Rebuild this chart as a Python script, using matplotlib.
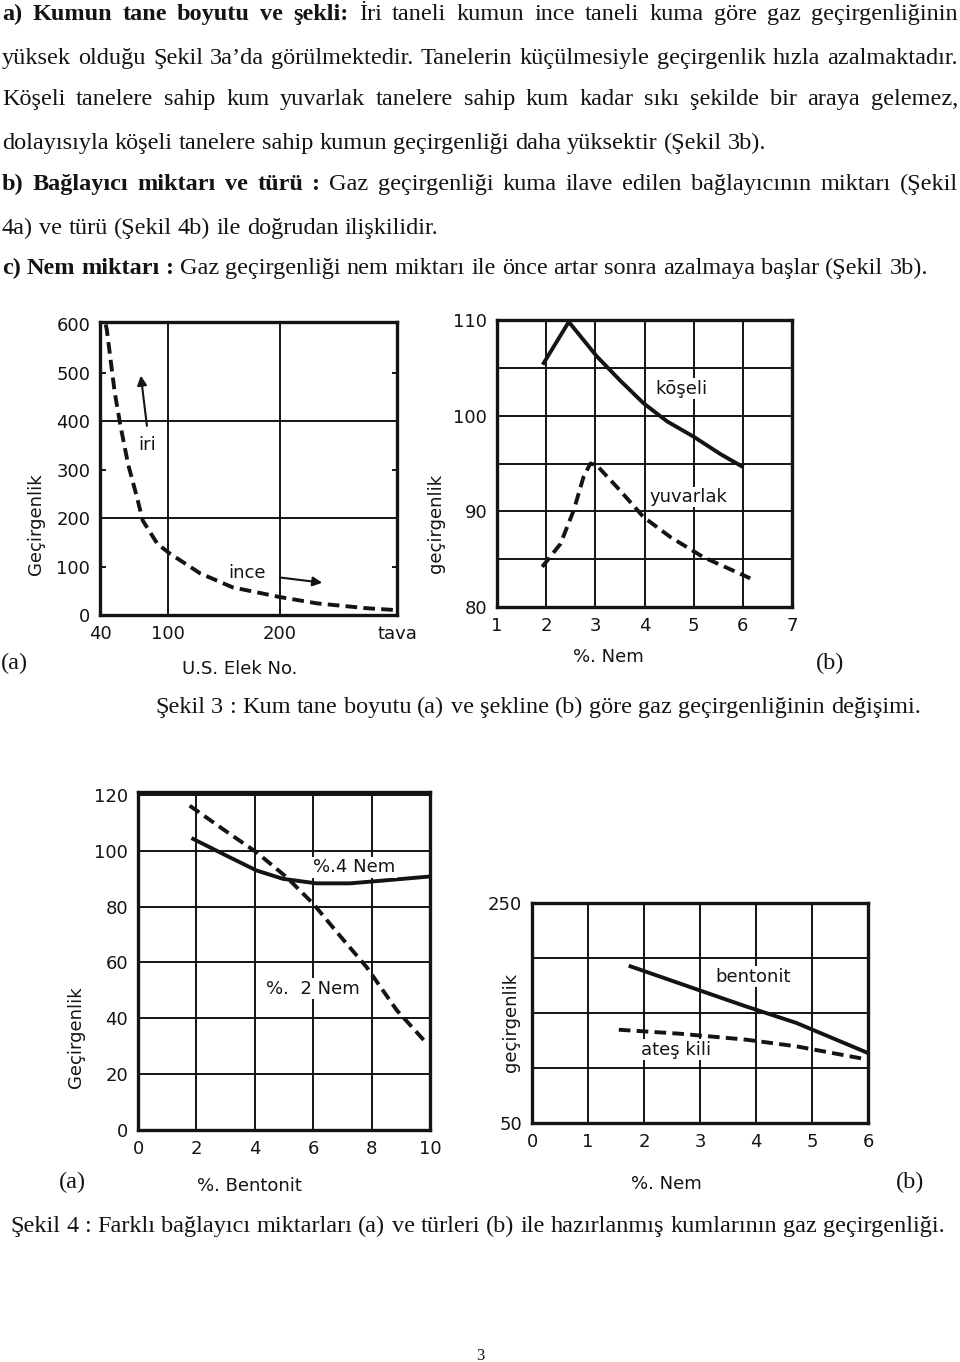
import numpy as np
import matplotlib.pyplot as plt

W, H = 960, 1362
INK = '#141414'
SERIF = 'Liberation Serif'
SANS = 'DejaVu Sans'
CFS = 13  # chart text size

# --- Şekil 3a: tane boyutu
sieve_ticks = [40, 100, 200, 304]
sieve_labels = ['40', '100', '200', 'tava']
sieve_x = [45, 46, 53, 58, 65, 73, 78, 91, 102, 129, 158, 200, 233, 277, 304]
perm_3a = [600, 590, 461, 393, 311, 242, 195, 147, 127, 86, 57, 37, 24, 14, 10]

# --- Şekil 3b: tane şekli
nem_koseli = [1.95, 2.46, 3.03, 3.5, 3.98, 4.46, 5.0, 5.54, 5.98]
perm_koseli = [105.5, 109.8, 106.2, 103.7, 101.3, 99.4, 97.8, 96.0, 94.7]
nem_yuvarlak = [1.92, 2.29, 2.56, 2.76, 2.9, 3.03, 3.5, 3.98, 4.53, 5.2, 6.15]
perm_yuvarlak = [84.2, 86.6, 90.1, 93.6, 95.0, 94.8, 92.2, 89.4, 87.3, 85.2, 83.0]

# --- Şekil 4a: bentonit miktarı
bent_4nem = [1.89, 3.03, 4.06, 4.97, 6.11, 7.26, 8.4, 9.94]
perm_4nem = [104.2, 98.2, 92.9, 89.9, 88.3, 88.3, 89.3, 90.7]
bent_2nem = [1.77, 2.91, 4.06, 5.09, 6.0, 6.91, 7.83, 8.86, 9.89]
perm_2nem = [116.1, 107.7, 99.4, 90.5, 81.0, 69.6, 58.3, 42.9, 31.0]

# --- Şekil 4b: bağlayıcı türü
nem_bentonit = [1.76, 2.63, 3.82, 4.72, 6.0]
perm_bentonit = [192.4, 177, 156, 141, 113.6]
nem_ates = [1.55, 2.63, 3.82, 4.72, 6.0]
perm_ates = [134.8, 131.2, 125.8, 119.7, 107.6]

paragraph = [
    (13, [('a) Kumun tane boyutu ve şekli:', 'bold'),
          ('İri taneli kumun ince taneli kuma göre gaz geçirgenliğinin', 'normal')], True),
    (57, [('yüksek olduğu Şekil 3a’da görülmektedir. Tanelerin küçülmesiyle geçirgenlik hızla azalmaktadır.', 'normal')], True),
    (98, [('Köşeli tanelere sahip kum yuvarlak tanelere sahip kum kadar sıkı şekilde bir araya gelemez,', 'normal')], True),
    (142, [('dolayısıyla köşeli tanelere sahip kumun geçirgenliği daha yüksektir (Şekil 3b).', 'normal')], False),
    (183, [('b) Bağlayıcı miktarı ve türü :', 'bold'),
           ('Gaz geçirgenliği kuma ilave edilen bağlayıcının miktarı (Şekil', 'normal')], True),
    (227, [('4a) ve türü (Şekil 4b) ile doğrudan ilişkilidir.', 'normal')], False),
    (267, [('c) Nem miktarı :', 'bold'),
           ('Gaz geçirgenliği nem miktarı ile önce artar sonra azalmaya başlar (Şekil 3b).', 'normal')], False),
]

fig = plt.figure(figsize=(W / 100, H / 100), dpi=100)
renderer = fig.canvas.get_renderer()
FS = 17.5


def text_line(y, segments, justify, x0=2, x1=958):
    # y is the visual middle of the line in pixels; words share one baseline
    base = 1 - (y + 7) / H
    arts = []
    for txt, weight in segments:
        for word in txt.split():
            arts.append(fig.text(0, base, word, fontsize=FS, family=SERIF,
                                 fontweight=weight, va='baseline', color=INK))
    widths = [a.get_window_extent(renderer).width for a in arts]
    if justify and len(arts) > 1:
        gap = (x1 - x0 - sum(widths)) / (len(arts) - 1)
    else:
        gap = FS * 0.25 * 100 / 72
    x = x0
    for a, w in zip(arts, widths):
        a.set_x(x / W)
        x += w + gap


for y, segs, just in paragraph:
    text_line(y, segs, just)


def make_axes(left, top, right, bottom):
    ax = fig.add_axes([left / W, 1 - bottom / H, (right - left) / W, (bottom - top) / H])
    for s in ax.spines.values():
        s.set_linewidth(2.4)
        s.set_color(INK)
    ax.tick_params(length=0, labelsize=CFS, colors=INK, pad=7)
    ax.grid(True, color=INK, linewidth=1.4)
    ax.set_axisbelow(True)
    return ax


def label(ax, x, y, s):
    ax.text(x, y, s, fontsize=CFS, family=SANS, ha='center', va='center', color=INK,
            bbox=dict(facecolor='white', edgecolor='none', pad=1))


# Şekil 3a
ax = make_axes(100, 322, 397, 615)
ax.set_xlim(40, 304)
ax.set_ylim(0, 605)
ax.set_xticks(sieve_ticks)
ax.set_xticklabels(sieve_labels)
ax.set_yticks([0, 100, 200, 300, 400, 500, 600])
ax.yaxis.grid(False)
ax.xaxis.grid(False)
for v in [200, 400]:
    ax.axhline(v, color=INK, lw=1.4)
for v in [100, 200]:
    ax.axvline(v, color=INK, lw=1.4)
for v in [100, 300, 500]:
    ax.plot([40, 44], [v, v], color=INK, lw=1.4)
    ax.plot([300, 304], [v, v], color=INK, lw=1.4)
ax.plot(sieve_x, perm_3a, color=INK, lw=2.8, ls=(0, (3, 1.6)))
ax.text(82, 352, 'iri', fontsize=CFS, family=SANS, ha='center', va='center', color=INK)
ax.annotate('', xy=(76, 500), xytext=(82, 385),
            arrowprops=dict(arrowstyle='-|>', lw=1.5, color=INK, mutation_scale=14))
ax.text(171, 86, 'ince', fontsize=CFS, family=SANS, ha='center', va='center', color=INK)
ax.annotate('', xy=(240, 66), xytext=(198, 78),
            arrowprops=dict(arrowstyle='-|>', lw=1.5, color=INK, mutation_scale=14))
ax.set_ylabel('Geçirgenlik', fontsize=CFS, family=SANS, color=INK)
ax.yaxis.set_label_coords(-0.185, 0.31)
ax.set_xlabel('U.S. Elek No.', fontsize=CFS, family=SANS, color=INK)
ax.xaxis.set_label_coords(0.47, -0.155)

# Şekil 3b
ax = make_axes(497, 320, 792, 607)
ax.set_xlim(1, 7)
ax.set_ylim(80, 110)
ax.set_xticks(range(1, 8))
ax.set_yticks([80, 85, 90, 95, 100, 105, 110])
ax.set_yticklabels(['80', '', '90', '', '100', '', '110'])
ax.plot(nem_koseli, perm_koseli, color=INK, lw=2.8)
ax.plot(nem_yuvarlak, perm_yuvarlak, color=INK, lw=2.8, ls=(0, (3, 1.6)))
label(ax, 4.76, 102.8, 'kōşeli')
label(ax, 4.9, 91.5, 'yuvarlak')
ax.set_ylabel('geçirgenlik', fontsize=CFS, family=SANS, color=INK)
ax.yaxis.set_label_coords(-0.176, 0.29)
ax.set_xlabel('%. Nem', fontsize=CFS, family=SANS, color=INK)
ax.xaxis.set_label_coords(0.376, -0.143)

fig.text(14 / W, 1 - 663 / H, '(a)', fontsize=FS, family=SERIF, ha='center', va='center', color=INK)
fig.text(830 / W, 1 - 663 / H, '(b)', fontsize=FS, family=SERIF, ha='center', va='center', color=INK)
text_line(706, [('Şekil 3 : Kum tane boyutu (a) ve şekline (b) göre gaz geçirgenliğinin değişimi.', 'normal')],
          False, x0=155)

# Şekil 4a
ax = make_axes(138, 792, 430, 1130)
ax.set_xlim(0, 10)
ax.set_ylim(0, 121)
ax.set_xticks(range(0, 11, 2))
ax.set_yticks(range(0, 121, 20))
ax.plot(bent_4nem, perm_4nem, color=INK, lw=2.8)
ax.plot(bent_2nem, perm_2nem, color=INK, lw=2.8, ls=(0, (3, 1.6)))
label(ax, 7.4, 94, '%.4 Nem')
label(ax, 6.0, 50.6, '%.  2 Nem')
ax.set_ylabel('Geçirgenlik', fontsize=CFS, family=SANS, color=INK)
ax.yaxis.set_label_coords(-0.18, 0.275)
ax.set_xlabel('%. Bentonit', fontsize=CFS, family=SANS, color=INK)
ax.xaxis.set_label_coords(0.383, -0.139)

# Şekil 4b
ax = make_axes(532, 903, 868, 1123)
ax.set_xlim(0, 6)
ax.set_ylim(50, 250)
ax.set_xticks(range(0, 7))
ax.set_yticks([50, 100, 150, 200, 250])
ax.set_yticklabels(['50', '', '', '', '250'])
ax.plot(nem_bentonit, perm_bentonit, color=INK, lw=2.8)
ax.plot(nem_ates, perm_ates, color=INK, lw=2.8, ls=(0, (3, 1.6)))
label(ax, 3.94, 183, 'bentonit')
label(ax, 2.57, 116.7, 'ateş kili')
ax.set_ylabel('geçirgenlik', fontsize=CFS, family=SANS, color=INK)
ax.yaxis.set_label_coords(-0.036, 0.455)
ax.set_xlabel('%. Nem', fontsize=CFS, family=SANS, color=INK)
ax.xaxis.set_label_coords(0.40, -0.236)

fig.text(72 / W, 1 - 1182 / H, '(a)', fontsize=FS, family=SERIF, ha='center', va='center', color=INK)
fig.text(910 / W, 1 - 1182 / H, '(b)', fontsize=FS, family=SERIF, ha='center', va='center', color=INK)
text_line(1225, [('Şekil 4 : Farklı bağlayıcı miktarları (a) ve türleri (b) ile hazırlanmış kumlarının gaz geçirgenliği.',
                  'normal')], False, x0=10)
fig.text(480 / W, 1 - 1356 / H, '3', fontsize=12, family=SERIF, ha='center', va='center', color=INK)

fig.savefig('out.png', dpi=100)
